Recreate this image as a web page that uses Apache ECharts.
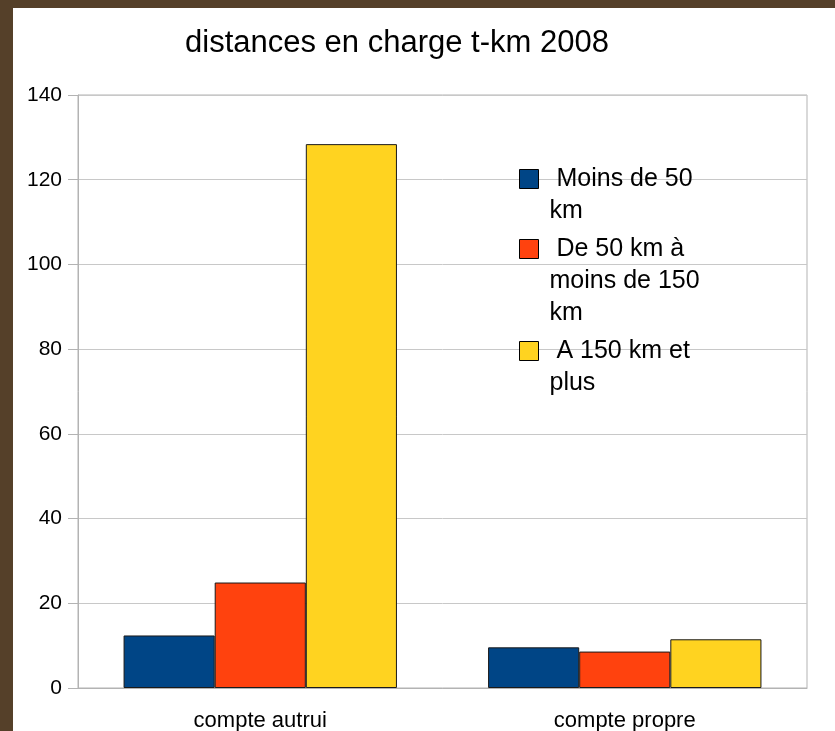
<!DOCTYPE html>
<html>
<head>
<meta charset="utf-8">
<script src="https://cdn.jsdelivr.net/npm/echarts@6/dist/echarts.min.js"></script>
<style>
html, body { margin: 0; padding: 0; background: #554029; width: 835px; height: 731px; overflow: hidden; }
#chart { position: absolute; left: 13px; top: 8px; width: 822px; height: 723px; background: #fff; }
</style>
</head>
<body>
<div id="chart"></div>
<script>
// categories et series
const categories = ['compte autrui', 'compte propre']
const moins50 = [12.4, 9.6]
const de50a150 = [24.9, 8.6]
const plus150 = [128.4, 11.5]
const seriesNames = ['Moins de 50 km', 'De 50 km à moins de 150 km', 'A 150 km et plus']
// texte de légende coupé comme dans l'original
const legendText = [' Moins de 50\nkm', ' De 50 km à\nmoins de 150\nkm', ' A 150 km et\nplus']
const colors = ['#004586', '#ff420e', '#ffd320']

const font = 'Liberation Sans, Arial, sans-serif'
const lh = 32

// une légende par série ; lignes vides devant pour caler l'icône sur la 1re ligne
const legendTops = [123, 161, 295]
const legends = seriesNames.map((name, i) => {
	const lines = legendText[i].split('\n').length
	const txt = '\n'.repeat(lines - 1) + legendText[i]
	return {
		data: [name],
		orient: 'vertical',
		left: 506,
		top: legendTops[i],
		padding: 0,
		itemWidth: 19,
		itemHeight: 19,
		icon: 'rect',
		selectedMode: false,
		itemStyle: { borderColor: '#000', borderWidth: 1 },
		formatter: () => txt,
		textStyle: {
			fontFamily: font,
			fontSize: 25,
			color: '#000',
			lineHeight: lh,
			padding: [0, 0, 0, 6]
		}
	}
})

const chart = echarts.init(document.getElementById('chart'))
const option = {
	animation: false,
	title: {
		text: 'distances en charge t-km 2008',
		left: 172,
		top: 20,
		padding: 0,
		textStyle: { fontFamily: font, fontSize: 31, fontWeight: 'normal', color: '#000' }
	},
	legend: legends,
	grid: {
		left: 65,
		right: 28,
		top: 87,
		bottom: 43,
		outerBoundsMode: 'none',
		containLabel: false,
		show: true,
		borderColor: '#b3b3b3',
		borderWidth: 1
	},
	xAxis: {
		type: 'category',
		data: categories,
		axisLine: { lineStyle: { color: '#b3b3b3' } },
		axisTick: { length: 12, lineStyle: { color: '#b3b3b3' } },
		axisLabel: { margin: 22, fontFamily: font, fontSize: 22, color: '#000' }
	},
	yAxis: {
		type: 'value',
		min: 0,
		max: 140,
		interval: 20,
		axisLine: { show: true, lineStyle: { color: '#b3b3b3' } },
		axisTick: { show: true, length: 10, lineStyle: { color: '#b3b3b3' } },
		axisLabel: { margin: 16, fontFamily: font, fontSize: 21, color: '#000' },
		splitLine: { lineStyle: { color: '#c8c8c8' } }
	},
	series: [moins50, de50a150, plus150].map((d, i) => ({
		name: seriesNames[i],
		type: 'bar',
		data: d,
		barGap: '0%',
		barCategoryGap: '25%',
		itemStyle: { color: colors[i], borderColor: '#1a1a1a', borderWidth: 1 }
	}))
}
chart.setOption(option)
</script>
</body>
</html>
